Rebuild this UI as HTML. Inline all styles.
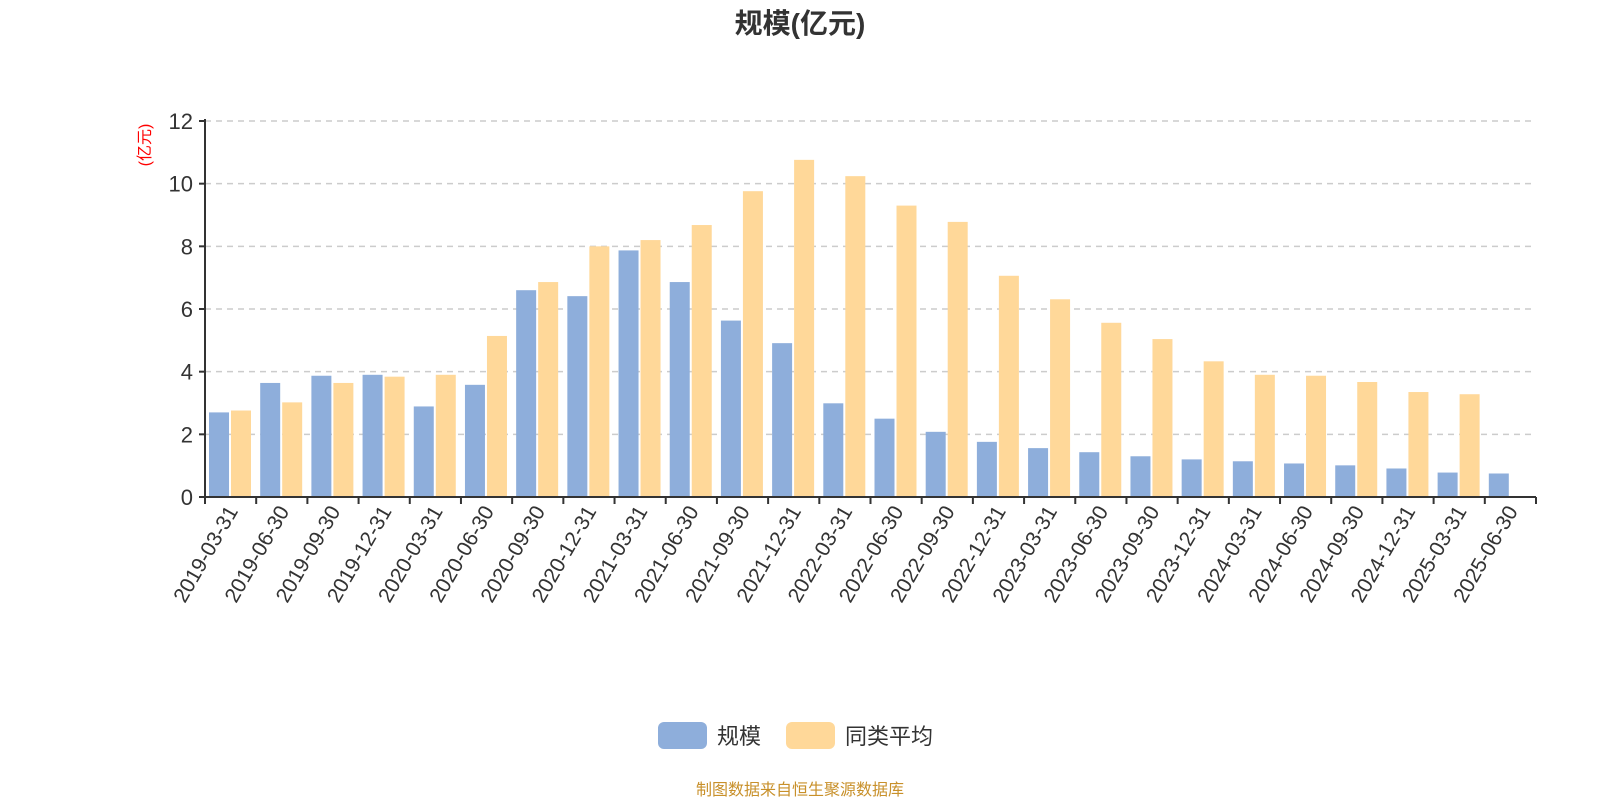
<!DOCTYPE html>
<html><head><meta charset="utf-8"><style>
body{margin:0;background:#fff;}
svg{display:block;font-family:"Liberation Sans","Noto Sans CJK SC",sans-serif;}
</style></head><body>
<svg id="c" width="1600" height="800">
<text x="800" y="33" text-anchor="middle" font-size="28" font-weight="bold" fill="#333">规模(亿元)</text>
<text transform="translate(150,145) rotate(-90)" text-anchor="middle" font-size="16" fill="#ff0000">(亿元)</text>
<g id="plot"></g>
<g>
<rect x="658" y="722" width="49" height="27" rx="6" fill="#8eaedb"/>
<text x="717" y="744" font-size="22" fill="#333">规模</text>
<rect x="786" y="722" width="49" height="27" rx="6" fill="#ffd899"/>
<text x="845" y="744" font-size="22" fill="#333">同类平均</text>
</g>
<text x="800" y="795" text-anchor="middle" font-size="16" fill="#c8902a">制图数据来自恒生聚源数据库</text>
</svg>
<script>
const categories=["2019-03-31","2019-06-30","2019-09-30","2019-12-31","2020-03-31","2020-06-30","2020-09-30","2020-12-31","2021-03-31","2021-06-30","2021-09-30","2021-12-31","2022-03-31","2022-06-30","2022-09-30","2022-12-31","2023-03-31","2023-06-30","2023-09-30","2023-12-31","2024-03-31","2024-06-30","2024-09-30","2024-12-31","2025-03-31","2025-06-30"];
const scaleValues=[2.70,3.64,3.87,3.90,2.89,3.58,6.60,6.41,7.87,6.86,5.63,4.91,2.99,2.50,2.08,1.76,1.56,1.43,1.30,1.20,1.14,1.07,1.01,0.91,0.78,0.75];
const avgValues=[2.76,3.02,3.64,3.84,3.90,5.14,6.86,8.00,8.20,8.68,9.76,10.76,10.24,9.30,8.78,7.06,6.31,5.56,5.04,4.33,3.90,3.87,3.67,3.35,3.28,null];
const yTicks=[0,2,4,6,8,10,12];
const NS="http://www.w3.org/2000/svg";
const g=document.getElementById('plot');
const x0=205,x1=1536,y0=497,yTop=121,yMax=12;
const bw=(x1-x0)/categories.length;
function y(v){return y0-(v/yMax)*(y0-yTop);}
function el(t,a){const e=document.createElementNS(NS,t);for(const k in a)e.setAttribute(k,a[k]);g.appendChild(e);return e;}
yTicks.forEach(t=>{
 if(t>0){const l=el('line',{x1:x0,x2:x1,y1:y(t),y2:y(t),stroke:'#ccc','stroke-width':1.5,'stroke-dasharray':'6,5'});
 
 }
 const tk=el('line',{x1:x0-6,x2:x0,y1:y(t),y2:y(t),stroke:'#333','stroke-width':2});
 
 
 const tx=el('text',{x:x0-12,y:y(t)+8,'text-anchor':'end','font-size':22,fill:'#333'});
 tx.textContent=t;
 
 
});
categories.forEach((c,i)=>{
 const cx=x0+i*bw;
 const a=el('rect',{x:cx+4,y:y(scaleValues[i]),width:20,height:y0-y(scaleValues[i]),fill:'#8eaedb'});
 
 
 if(avgValues[i]!=null){
 const b=el('rect',{x:cx+26,y:y(avgValues[i]),width:20,height:y0-y(avgValues[i]),fill:'#ffd899'});
 
 }
 const tx=el('text',{transform:`translate(${cx+bw/2+8},${y0+14}) rotate(-60)`,'text-anchor':'end','font-size':21,fill:'#333'});
 tx.textContent=c;
 
 
});
for(let i=0;i<=categories.length;i++){
 const t=el('line',{x1:x0+i*bw,x2:x0+i*bw,y1:y0,y2:y0+7,stroke:'#333','stroke-width':2});
 
 
}
const ya=el('line',{x1:x0,x2:x0,y1:yTop-2,y2:y0,stroke:'#333','stroke-width':2});


const xa=el('line',{x1:x0,x2:x1,y1:y0,y2:y0,stroke:'#333','stroke-width':2});


</script>
</body></html>
